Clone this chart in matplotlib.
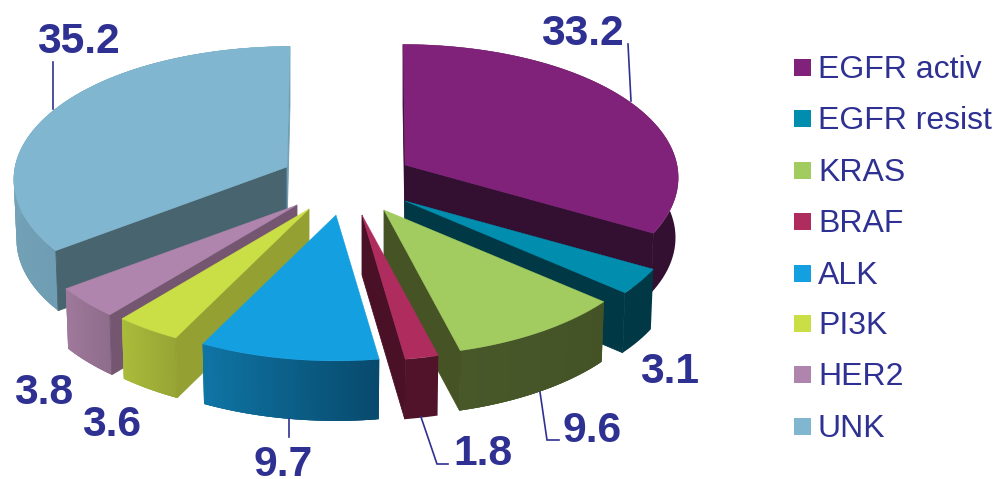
import numpy as np
import matplotlib
matplotlib.use("Agg")
import matplotlib.pyplot as plt
from matplotlib.colors import to_rgb
from matplotlib.patches import Polygon, Rectangle

# Mutation shares, percent
categories = ["EGFR activ", "EGFR resist", "KRAS", "BRAF", "ALK", "PI3K", "HER2", "UNK"]
values = [33.2, 3.1, 9.6, 1.8, 9.7, 3.6, 3.8, 35.2]

top_colors = ["#80217A", "#008DAE", "#A2CB60", "#AE2D5E", "#149FE0", "#CADF46", "#AF84AD", "#80B6CF"]
# Outer wall shading, from the start of each slice's arc to its end
wall_start = ["#330F31", "#003845", "#445326", "#51132A", "#084A6D", "#97A535", "#8E6C8B", "#6F9DB3"]
wall_end = ["#330F31", "#003845", "#485829", "#51132A", "#0F75A5", "#AABC3B", "#A07A9C", "#84B0C4"]
cut_colors = ["#330F31", "#003845", "#465425", "#4A1026", "#084A6D", "#94A032", "#745670", "#48646F"]

# Exploded slice apex positions in pixels
apex_x = [405, 405, 384, 362, 336, 309, 297, 287]
apex_y = [165, 201, 210, 215, 215, 209, 205, 167]
# Horizontal lean of the far rim, in pixels
far_lean = [-2, 0, 0, 0, 0, 0, 0, 3]
draw_order = [7, 0, 1, 6, 5, 2, 4, 3]

RX, RY, PERSPECTIVE, DEPTH, TAPER = 272, 132, 0.095, 60, 0.99
INK = "#2E3192"

plt.rcParams["font.family"] = ["Liberation Sans", "DejaVu Sans"]
fig = plt.figure(figsize=(9.96, 4.79), dpi=100)
ax = fig.add_axes([0, 0, 1, 1])
ax.set_xlim(0, 996)
ax.set_ylim(479, 0)
ax.axis("off")


def rim(theta, index):
    """Project clockwise angles (degrees from the top) onto the tilted disc."""
    t = np.radians(theta)
    front = -np.cos(t)
    scale = 1 / (1 - PERSPECTIVE * front)
    dx = RX * np.sin(t) * scale + far_lean[index] * np.maximum(-front, 0) ** 8
    dy = RY * front * scale
    return dx, dy


edges = np.concatenate([[0], np.cumsum(values)]) / np.sum(values) * 360

for z, i in enumerate(draw_order):
    a, b = edges[i], edges[i + 1]
    tx, ty = apex_x[i], apex_y[i]
    zorder = 2 + z
    theta = np.linspace(a, b, 70)
    dx, dy = rim(theta, i)
    top_x, top_y = tx + dx, ty + dy
    low_x, low_y = tx + dx * TAPER, ty + dy + DEPTH

    # Curved outer wall: a solid base, then overlapping shaded bands on top of it
    c0, c1 = np.array(to_rgb(wall_start[i])), np.array(to_rgb(wall_end[i]))
    base = np.column_stack([np.r_[top_x, low_x[::-1]], np.r_[top_y, low_y[::-1]]])
    ax.add_patch(Polygon(base, facecolor=(c0 + c1) / 2, edgecolor="none", zorder=zorder))
    if wall_start[i] != wall_end[i]:
        for k in range(len(theta) - 1):
            f = k / (len(theta) - 2)
            m = min(k + 2, len(theta) - 1)
            band = np.column_stack([np.r_[top_x[k:m + 1], low_x[k:m + 1][::-1]],
                                    np.r_[top_y[k:m + 1], low_y[k:m + 1][::-1]]])
            ax.add_patch(Polygon(band, facecolor=c0 * (1 - f) + c1 * f, edgecolor="none", zorder=zorder))

    # Radial cut faces turned towards the viewer
    faces = []
    if b < 180:
        faces.append(-1)
    if a > 180 or a == 0:
        faces.append(0)
    if b >= 360 - 1e-6:
        faces.append(-1)
    for e in faces:
        shade = wall_start[i] if b >= 360 - 1e-6 and e == -1 else cut_colors[i]
        ax.add_patch(Polygon([(tx, ty), (top_x[e], top_y[e]), (low_x[e], low_y[e]), (tx, ty + DEPTH)],
                             facecolor=shade, edgecolor=shade, lw=0.6, zorder=zorder))

    # Top face
    outline = np.column_stack([np.r_[tx, top_x], np.r_[ty, top_y]])
    ax.add_patch(Polygon(outline, facecolor=top_colors[i], edgecolor=top_colors[i], lw=0.3, zorder=zorder + 0.5))

# Value labels, placed by baseline position
label_x = [582, 670, 592, 483, 283, 112, 44, 78]
label_y = [45, 383, 442, 465, 476, 436, 404, 53]
for value, x, y in zip(values, label_x, label_y):
    ax.text(x, y, f"{value:.1f}", color=INK, fontsize=30.7, fontweight="bold",
            ha="center", va="baseline", zorder=30)

# Leader lines
leaders = [
    [(628, 44), (631, 101)],
    [(53, 62), (53, 109)],
    [(289, 419), (289, 437)],
    [(421, 417), (437, 464), (448, 464)],
    [(540, 392), (547, 440), (559, 440)],
]
for path in leaders:
    xs, ys = zip(*path)
    ax.plot(xs, ys, color=INK, lw=1.2, solid_joinstyle="miter", zorder=29)

# Legend
legend_y = [67, 118, 170, 221, 273, 323, 374, 426]
for name, colour, y in zip(categories, top_colors, legend_y):
    ax.add_patch(Rectangle((794, y - 8.5), 17, 17, facecolor=colour, edgecolor="none", zorder=30))
    ax.text(818, y + 11, name, color=INK, fontsize=23, ha="left", va="baseline", zorder=30)

fig.savefig("out.png", dpi=100)
